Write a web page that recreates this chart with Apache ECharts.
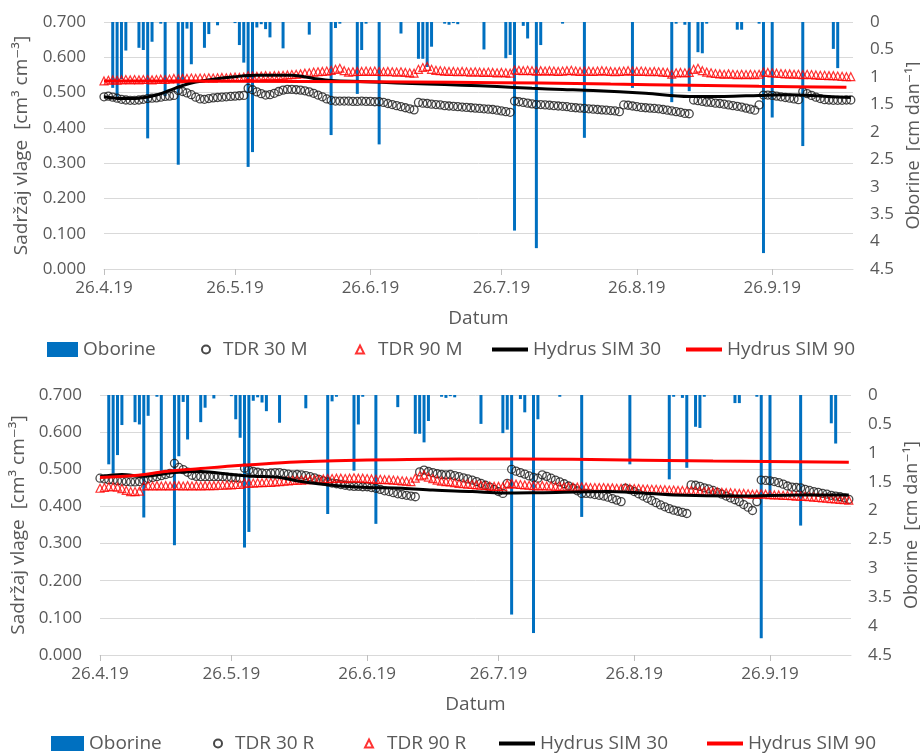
<!DOCTYPE html>
<html>
<head>
<meta charset="utf-8">
<script src="https://cdn.jsdelivr.net/npm/echarts@6/dist/echarts.min.js"></script>
<style>html,body{margin:0;padding:0;background:#fff}#c{width:920px;height:754px}</style>
</head>
<body>
<div id="c"></div>
<script>
// ---- data (x = day number, day 0 = 26.4.2019) ----
const startDate = [2019, 3, 26];
const tickDays = [0, 30, 61, 91, 122, 153];   // 26.4, 26.5, 26.6, 26.7, 26.8, 26.9

const rainDay = [2,3,4,5,8,9,10,11,13,14,17,18,19,20,23,24,26,30,31,32,33,34,35,36,37,38,41,47,52,53,54,58,59,60,63,68,72,73,74,75,78,79,80,81,87,92,93,94,96,97,99,100,105,110,121,130,131,133,134,136,137,138,145,146,150,151,153,160,167,168];
const rainCm = [1.2,1.36,1.04,0.52,0.47,0.51,2.12,0.36,0.03,1.35,2.6,1.06,0.12,0.77,0.47,0.22,0.06,0.02,0.42,0.74,2.64,2.37,0.1,0.04,0.13,0.28,0.48,0.23,2.06,0.11,0.03,1.31,0.51,0.03,2.23,0.21,0.67,0.67,0.82,0.45,0.03,0.05,0.02,0.04,0.5,0.66,0.6,3.8,0.07,0.3,4.12,0.42,0.03,2.11,1.2,1.46,0.03,0.05,1.26,0.55,0.57,0.03,0.14,0.14,0.03,4.21,1.74,2.26,0.49,0.84];

// top panel (M), daily values day 0..171
const tdr30M = [
.488,.490,.487,.484,.481,.479,.478,.478,.479,.481,
.483,.484,.485,.487,.489,.490,.492,.506,.503,.499,
.494,.487,.482,.481,.483,.485,.486,.487,.488,.489,
.490,.491,.492,.512,.508,.502,.497,.493,.494,.498,
.503,.507,.509,.509,.508,.507,.505,.502,.498,.493,
.488,.482,.478,.476,.476,.476,.476,.475,.475,.476,
.475,.475,.474,.474,.472,.469,.466,.463,.460,.457,
.454,.451,.472,.470,.469,.467,.466,.465,.463,.462,
.461,.460,.459,.458,.457,.456,.455,.454,.453,.452,
.450,.448,.446,.444,.476,.474,.472,.470,.468,.466,
.466,.465,.464,.463,.462,.461,.460,.458,.457,.456,
.455,.454,.453,.452,.451,.450,.449,.448,.446,.465,
.464,.462,.460,.458,.457,.456,.455,.454,.452,.450,
.448,.446,.444,.441,.440,.479,.477,.475,.473,.472,
.470,.469,.467,.465,.463,.461,.459,.456,.453,.450,
.465,.493,.493,.492,.490,.488,.486,.484,.482,.480,
.503,.497,.492,.487,.483,.480,.479,.478,.478,.478,
.479,.479];
const tdr90M = [
.533,.535,.536,.535,.536,.537,.536,.537,.536,.537,
.537,.536,.537,.538,.537,.538,.540,.539,.540,.540,
.541,.540,.541,.541,.542,.541,.542,.543,.542,.543,
.544,.543,.544,.548,.547,.546,.547,.548,.547,.548,
.548,.549,.550,.551,.552,.553,.555,.556,.558,.559,
.560,.561,.563,.566,.569,.562,.558,.559,.560,.560,
.561,.560,.561,.560,.559,.560,.559,.558,.559,.557,
.556,.555,.566,.571,.574,.566,.563,.562,.561,.560,
.560,.559,.560,.559,.558,.559,.558,.557,.558,.557,
.556,.557,.556,.555,.564,.563,.562,.563,.562,.561,
.562,.561,.562,.561,.560,.561,.562,.563,.561,.560,
.561,.561,.560,.561,.562,.561,.560,.559,.560,.561,
.562,.561,.560,.561,.560,.559,.560,.559,.558,.557,
.552,.556,.557,.556,.557,.566,.569,.562,.558,.556,
.554,.553,.552,.553,.552,.551,.552,.551,.552,.551,
.552,.558,.557,.556,.555,.554,.553,.553,.552,.552,
.551,.552,.551,.550,.549,.549,.548,.548,.547,.546,
.545,.545];
const simDayM30 = [0,4,8,12,15,18,21,25,30,35,43,48,52,60,67,74,82,90,98,105,112,124,134,142,150,157,164,171];
const sim30M = [.488,.483,.484,.493,.506,.520,.530,.538,.545,.549,.549,.540,.534,.531,.527,.524,.521,.517,.512,.509,.506,.498,.489,.489,.492,.494,.490,.486];
const simDayM90 = [0,10,30,60,80,100,116,134,150,170];
const sim90M = [.533,.533,.532,.531,.529,.527,.524,.521,.518,.515];

// bottom panel (R), daily values day 0..171
const tdr30R = [
.476,.474,.472,.471,.469,.468,.467,.466,.466,.467,
.470,.475,.478,.480,.483,.486,.489,.516,.505,.499,
.492,.484,.481,.480,.480,.480,.480,.480,.480,.479,
.478,.477,.476,.503,.498,.494,.492,.490,.489,.490,
.491,.491,.489,.487,.485,.486,.485,.483,.480,.477,
.473,.469,.466,.463,.461,.459,.457,.455,.454,.454,
.453,.453,.451,.449,.446,.442,.440,.437,.434,.432,
.430,.428,.426,.493,.498,.494,.491,.488,.486,.485,
.486,.483,.480,.477,.474,.471,.467,.462,.457,.452,
.446,.440,.435,.462,.500,.495,.491,.487,.482,.478,
.476,.485,.481,.476,.471,.466,.461,.455,.449,.442,
.435,.435,.434,.432,.430,.428,.425,.421,.417,.413,
.449,.445,.440,.434,.428,.422,.416,.410,.404,.399,
.394,.390,.387,.384,.381,.458,.457,.454,.450,.447,
.443,.438,.433,.428,.423,.418,.413,.405,.398,.389,
.413,.471,.470,.469,.467,.464,.460,.455,.452,.451,
.450,.446,.443,.440,.438,.435,.433,.430,.428,.426,
.423,.419];
const tdr90R = [
.449,.451,.453,.453,.452,.448,.443,.440,.440,.441,
.455,.456,.455,.456,.455,.456,.455,.456,.456,.455,
.456,.455,.456,.455,.456,.456,.456,.457,.457,.458,
.458,.459,.459,.463,.463,.463,.464,.464,.465,.465,
.466,.467,.468,.469,.470,.471,.471,.472,.472,.473,
.473,.474,.475,.475,.476,.476,.475,.476,.477,.476,
.476,.475,.474,.473,.473,.472,.472,.471,.470,.469,
.468,.467,.476,.482,.485,.479,.475,.471,.468,.467,
.466,.464,.462,.461,.460,.459,.458,.457,.456,.455,
.454,.454,.453,.460,.462,.460,.459,.458,.457,.456,
.455,.456,.455,.455,.454,.454,.453,.453,.452,.452,
.453,.452,.451,.451,.451,.451,.450,.450,.449,.449,
.450,.449,.448,.448,.447,.447,.446,.446,.445,.445,
.444,.444,.443,.443,.442,.443,.442,.441,.440,.440,
.439,.439,.438,.437,.437,.436,.435,.435,.434,.433,
.433,.434,.433,.432,.431,.431,.430,.430,.429,.428,
.428,.427,.426,.425,.424,.423,.422,.421,.420,.419,
.418,.417];
const simDayR30 = [0,5,10,17,23,30,35,40,46,53,61,69,76,85,92,100,116,131,146,160,171];
const sim30R = [.480,.486,.481,.491,.494,.486,.481,.479,.467,.457,.451,.449,.444,.440,.436,.437,.440,.431,.428,.431,.431];
const simDayR90 = [0,8,15,23,30,38,46,61,82,108,140,171];
const sim90R = [.478,.483,.494,.502,.509,.515,.520,.525,.528,.527,.522,.519];

// ---- helpers ----
const DAY = 86400000;
const t0 = Date.UTC(startDate[0], startDate[1], startDate[2]);
const fmtDate = v => { const d = new Date(t0 + Math.round(v) * DAY); return d.getUTCDate() + '.' + (d.getUTCMonth() + 1) + '.' + String(d.getUTCFullYear()).slice(2); };
const daily = arr => arr.map((v, i) => [i, v]);
const pairs = (days, vals) => days.map((d, i) => [d, vals[i]]);

const FONT = '"Open Sans", "DejaVu Sans", sans-serif';
const GREY = '#595959';
const BLUE = '#0070C0';

function mkX(gi, gap) {
  return {
    type: 'value', gridIndex: gi, min: 0, max: 171.5,
    name: 'Datum', nameLocation: 'middle', nameGap: gap,
    nameTextStyle: { color: GREY, fontSize: 19, fontFamily: FONT },
    axisLine: { show: true, onZero: false, lineStyle: { color: '#D9D9D9' } },
    axisTick: { show: true, length: 6, lineStyle: { color: '#BFBFBF' }, customValues: tickDays },
    axisLabel: { color: GREY, fontSize: 17, fontFamily: FONT, margin: 11, customValues: tickDays, formatter: fmtDate, hideOverlap: false },
    splitLine: { show: false }
  };
}
function mkYL(gi, gap) {
  return {
    type: 'value', gridIndex: gi, position: 'left', min: 0, max: 0.7, interval: 0.1,
    name: 'Sadržaj vlage  [cm³ cm⁻³]', nameLocation: 'middle', nameGap: gap, nameRotate: 90,
    nameTextStyle: { color: GREY, fontSize: 19, fontFamily: FONT },
    axisLine: { show: false }, axisTick: { show: false },
    axisLabel: { color: GREY, fontSize: 17, fontFamily: FONT, margin: 18, formatter: v => v.toFixed(3) },
    splitLine: { lineStyle: { color: '#D9D9D9' } }
  };
}
function mkYR(gi, gap) {
  return {
    type: 'value', gridIndex: gi, position: 'right', min: 0, max: 4.5, interval: 0.5, inverse: true,
    name: 'Oborine  [cm dan⁻¹]', nameLocation: 'middle', nameGap: gap, nameRotate: 90,
    nameTextStyle: { color: GREY, fontSize: 18, fontFamily: FONT },
    axisLine: { show: false }, axisTick: { show: false },
    axisLabel: { color: GREY, fontSize: 17, fontFamily: FONT, margin: 17 },
    splitLine: { show: false }
  };
}
function lg(name, left, top, w, h, icon, padLeft) {
  const item = { name: name };
  if (icon) item.icon = icon;
  return { data: [item], left: left, top: top, itemWidth: w, itemHeight: h, padding: 0, selectedMode: false,
    textStyle: { color: GREY, fontSize: 19, fontFamily: FONT, padding: [0, 0, 0, padLeft || 0] } };
}
// precipitation bars hanging from the top (inverse right axis), drawn via the axes' coord()
function barS(name, xi, yi) {
  return {
    type: 'custom', name: name, xAxisIndex: xi, yAxisIndex: yi, z: 1,
    itemStyle: { color: BLUE }, encode: { x: 0, y: 1 },
    renderItem: function (params, api) {
      const d = api.value(0), v = api.value(1);
      const a = api.coord([d, 0]);
      const b = api.coord([d, v]);
      return { type: 'rect', shape: { x: a[0] - 1.5, y: Math.min(a[1], b[1]), width: 3, height: Math.abs(b[1] - a[1]) },
        style: { fill: BLUE } };
    },
    data: pairs(rainDay, rainCm)
  };
}
function circS(name, xi, yi, arr) {
  return { type: 'scatter', name: name, xAxisIndex: xi, yAxisIndex: yi, symbol: 'circle', symbolSize: 8, z: 2,
    itemStyle: { color: 'rgba(255,255,255,0)', borderColor: '#1a1a1a', borderWidth: 1.3 }, data: daily(arr) };
}
function triS(name, xi, yi, arr) {
  return { type: 'scatter', name: name, xAxisIndex: xi, yAxisIndex: yi, symbol: 'triangle', symbolSize: 8, z: 2,
    itemStyle: { color: 'rgba(255,255,255,0)', borderColor: '#FF0000', borderWidth: 1.2 }, data: daily(arr) };
}
function lineS(name, xi, yi, color, days, vals) {
  return { type: 'line', name: name, xAxisIndex: xi, yAxisIndex: yi, symbol: 'none', smooth: 0.35, z: 3,
    lineStyle: { color: color, width: 3 }, itemStyle: { color: color }, data: pairs(days, vals) };
}

const chart = echarts.init(document.getElementById('c'), null, { renderer: 'canvas' });
chart.setOption({
  animation: false,
  backgroundColor: '#ffffff',
  grid: [
    { left: 104, top: 22, width: 749, height: 247, containLabel: false, outerBoundsMode: 'none' },
    { left: 100, top: 395, width: 751, height: 260, containLabel: false, outerBoundsMode: 'none' }
  ],
  xAxis: [mkX(0, 40), mkX(1, 40)],
  yAxis: [mkYL(0, 73), mkYR(0, 47), mkYL(1, 69), mkYR(1, 49)],
  legend: [
    lg('Oborine', 47, 340, 31, 15, 'rect'),
    lg('TDR 30 M', 201, 340, 8, 8, null, 8),
    lg('TDR 90 M', 355, 340, 8, 8, null, 9),
    lg('Hydrus SIM 30', 492, 340, 36, 4, 'rect'),
    lg('Hydrus SIM 90', 686, 340, 36, 4, 'rect'),
    lg('Oborine', 51, 734, 33, 15, 'rect'),
    lg('TDR 30 R', 213, 734, 8, 8, null, 8),
    lg('TDR 90 R', 364, 734, 8, 8, null, 9),
    lg('Hydrus SIM 30', 499, 734, 36, 4, 'rect'),
    lg('Hydrus SIM 90', 707, 734, 36, 4, 'rect')
  ],
  series: [
    barS('Oborine', 0, 1),
    circS('TDR 30 M', 0, 0, tdr30M),
    triS('TDR 90 M', 0, 0, tdr90M),
    lineS('Hydrus SIM 30', 0, 0, '#000000', simDayM30, sim30M),
    lineS('Hydrus SIM 90', 0, 0, '#FF0000', simDayM90, sim90M),
    barS('Oborine', 1, 3),
    circS('TDR 30 R', 1, 2, tdr30R),
    triS('TDR 90 R', 1, 2, tdr90R),
    lineS('Hydrus SIM 30', 1, 2, '#000000', simDayR30, sim30R),
    lineS('Hydrus SIM 90', 1, 2, '#FF0000', simDayR90, sim90R)
  ]
});
</script>
</body>
</html>
